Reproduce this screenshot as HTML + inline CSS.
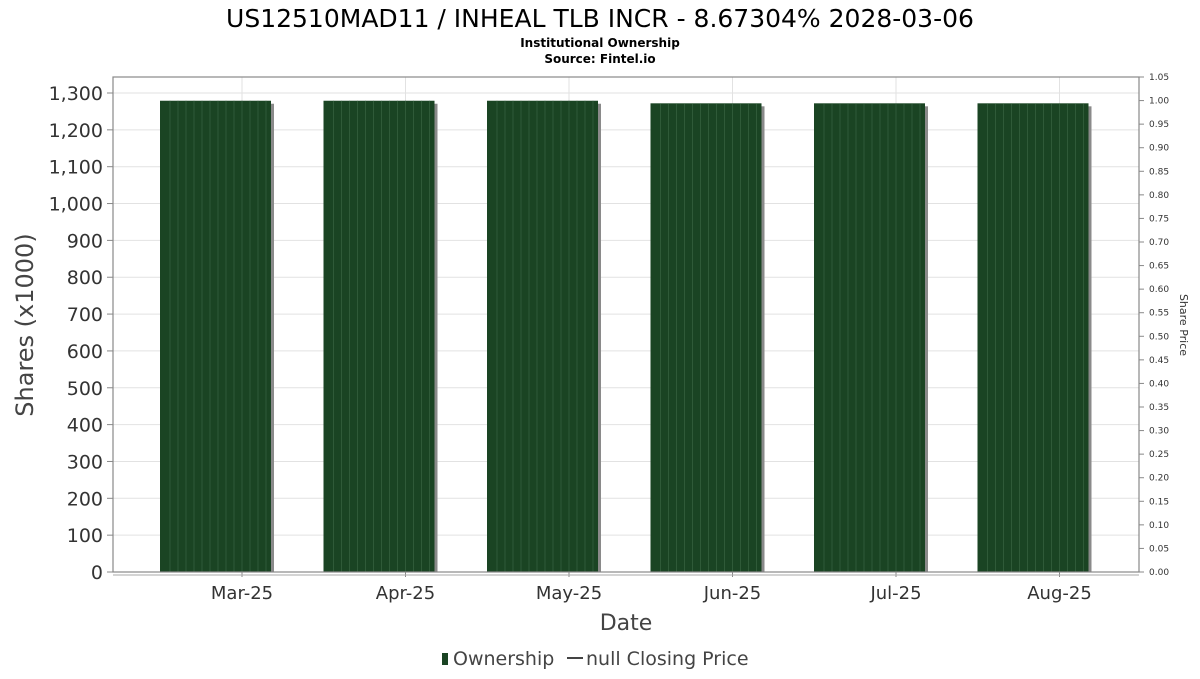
<!DOCTYPE html>
<html><head><meta charset="utf-8"><style>
body{margin:0;background:#fff;font-family:"DejaVu Sans","Liberation Sans",sans-serif;}
svg text{font-family:"DejaVu Sans","Liberation Sans",sans-serif;}
</style></head><body>
<svg id="c" width="1200" height="675">
<text x="600" y="27" font-size="25" text-anchor="middle" fill="#000">US12510MAD11 / INHEAL TLB INCR - 8.67304% 2028-03-06</text>
<text x="600" y="47" font-size="12" font-weight="bold" text-anchor="middle">Institutional Ownership</text>
<text x="600" y="63" font-size="12" font-weight="bold" text-anchor="middle">Source: Fintel.io</text>
<g id="grid"></g><g id="bars"></g><g id="axes"></g>
<rect x="113" y="77" width="1026" height="495" fill="none" stroke="#888" stroke-width="1.2"/>
<text x="33" y="325" font-size="24" fill="#444" text-anchor="middle" transform="rotate(-90 33 325)">Shares (x1000)</text>
<text x="1180" y="325" font-size="11" fill="#333" text-anchor="middle" transform="rotate(90 1180 325)">Share Price</text>
<text x="626" y="630" font-size="22" fill="#444" text-anchor="middle">Date</text>
<g>
<rect x="442" y="653" width="6" height="12" fill="#1a4423"/>
<text x="453" y="665" font-size="19" fill="#444">Ownership</text>
<line x1="567" y1="658" x2="583" y2="658" stroke="#444" stroke-width="2"/>
<text x="586" y="665" font-size="19" fill="#444">null Closing Price</text>
</g>
</svg>
<script>
const months = ["Mar-25","Apr-25","May-25","Jun-25","Jul-25","Aug-25"];
const shares = [1279, 1279, 1279, 1272, 1272, 1272];
const yTicks = [0,100,200,300,400,500,600,700,800,900,1000,1100,1200,1300];
const priceTicks = [0,0.05,0.1,0.15,0.2,0.25,0.3,0.35,0.4,0.45,0.5,0.55,0.6,0.65,0.7,0.75,0.8,0.85,0.9,0.95,1.0,1.05];
const NS="http://www.w3.org/2000/svg";
const y=v=>572-v*(479/1300);
const yp=v=>572-v*(495/1.05);
const xt=i=>242+i*163.5;
function mk(t,a,p){const e=document.createElementNS(NS,t);for(const k in a)e.setAttribute(k,a[k]);p.appendChild(e);return e;}
const G=document.getElementById('grid'),B=document.getElementById('bars'),A=document.getElementById('axes');
yTicks.forEach(v=>{
 const l=mk('line',{x1:113,x2:1139,y1:y(v),y2:y(v),stroke:'#e2e2e2'},G);
 
 
 mk('line',{x1:107,x2:113,y1:y(v),y2:y(v),stroke:'#888'},A);
 const t=mk('text',{x:103,y:y(v)+7,'font-size':19,fill:'#333','text-anchor':'end'},A);t.textContent=v.toLocaleString('en-US');
 
 
});
priceTicks.forEach(v=>{
 mk('line',{x1:1139,x2:1144,y1:yp(v),y2:yp(v),stroke:'#888'},A);
 const t=mk('text',{x:1149,y:yp(v)+3,'font-size':9,fill:'#333'},A);t.textContent=v.toFixed(2);
 
 
});
months.forEach((m,i)=>{
 const l=mk('line',{x1:xt(i),x2:xt(i),y1:77,y2:572,stroke:'#e2e2e2'},G);
 
 
 mk('line',{x1:xt(i),x2:xt(i),y1:572,y2:577,stroke:'#888'},A);
 const t=mk('text',{x:xt(i),y:599,'font-size':18,fill:'#333','text-anchor':'middle'},A);t.textContent=m;
 
 
 const x0=xt(i)-82,w=111,top=y(shares[i]);
 const g=mk('g',{},B);
 
 
 mk('rect',{x:x0+3,y:top+3,width:w,height:572-top-3,fill:'#8a8a8a'},g);
 mk('rect',{x:x0,y:top,width:w,height:572-top,fill:'#1a4423'},g);
 for(let s=x0+10;s<x0+w;s+=8) mk('line',{x1:s,x2:s,y1:top,y2:572,stroke:'#3a6442','stroke-width':0.7},g);
});
mk('line',{x1:113,x2:1139,y1:575,y2:575,stroke:'#aaa'},A);
</script>
</body></html>
